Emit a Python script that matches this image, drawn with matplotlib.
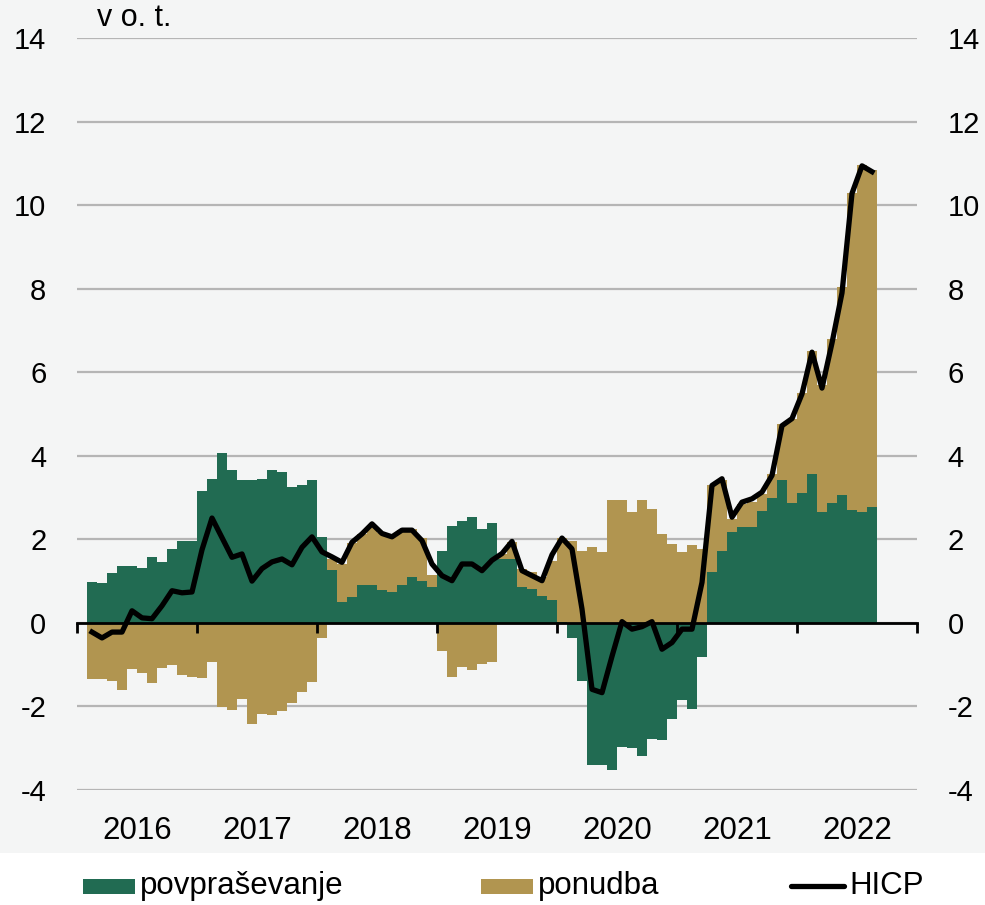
import numpy as np
import pandas as pd
import matplotlib.pyplot as plt
import matplotlib.transforms as mtransforms
from matplotlib.patches import Rectangle
from matplotlib.lines import Line2D

plt.rcParams['font.family'] = ['Liberation Sans', 'DejaVu Sans']

# monthly data, Feb 2016 - Aug 2022 (prispevki k inflaciji, v o. t.)
months = pd.period_range('2016-02', '2022-08', freq='M')

povprasevanje = [
    0.99, 0.95, 1.19, 1.35, 1.35, 1.31, 1.57, 1.46, 1.77, 1.97, 1.97,
    3.15, 3.45, 4.07, 3.66, 3.41, 3.41, 3.45, 3.66, 3.60, 3.26, 3.31, 3.41,
    2.06, 1.26, 0.49, 0.63, 0.90, 0.90, 0.79, 0.74, 0.90, 1.11, 1.01, 0.85,
    1.73, 2.33, 2.43, 2.54, 2.25, 2.38, 1.53, 1.53, 0.85, 0.81, 0.65, 0.54,
    0.02, -0.35, -1.39, -3.39, -3.39, -3.53, -2.96, -2.99, -3.19, -2.79, -2.81, -2.31,
    -1.85, -2.05, -0.82, 1.21, 1.71, 2.17, 2.29, 2.29, 2.69, 2.99, 3.41, 2.88,
    3.10, 3.57, 2.65, 2.88, 3.05, 2.70, 2.65, 2.78,
]

ponudba = [
    -1.35, -1.35, -1.39, -1.60, -1.10, -1.19, -1.45, -1.09, -1.01, -1.25, -1.29,
    -1.33, -0.94, -2.01, -2.09, -1.81, -2.41, -2.17, -2.21, -2.11, -1.91, -1.65, -1.41,
    -0.37, 0.27, 0.92, 1.28, 1.22, 1.45, 1.35, 1.31, 1.32, 1.13, 1.02, 0.30,
    -0.67, -1.29, -1.05, -1.13, -0.99, -0.94, 0.13, 0.40, 0.44, 0.40, 0.44, 0.95,
    2.01, 1.95, 1.73, 1.82, 1.69, 2.94, 2.94, 2.65, 2.94, 2.73, 2.13, 1.89,
    1.69, 1.86, 1.77, 2.08, 1.70, 0.32, 0.56, 0.60, 0.40, 0.58, 1.36, 2.00,
    2.40, 2.93, 3.05, 3.92, 5.00, 7.58, 8.31, 8.07,
]

hicp = [
    -0.22, -0.36, -0.22, -0.22, 0.29, 0.12, 0.10, 0.41, 0.77, 0.72, 0.74,
    1.75, 2.51, 2.04, 1.57, 1.65, 1.00, 1.30, 1.46, 1.53, 1.39, 1.81, 2.06,
    1.70, 1.58, 1.45, 1.93, 2.13, 2.37, 2.14, 2.06, 2.22, 2.22, 1.97, 1.41,
    1.13, 1.01, 1.41, 1.41, 1.25, 1.50, 1.66, 1.95, 1.25, 1.13, 1.01, 1.63,
    2.03, 1.77, 0.33, -1.59, -1.67, -0.80, 0.03, -0.15, -0.09, 0.03, -0.63, -0.47,
    -0.15, -0.15, 0.97, 3.29, 3.45, 2.53, 2.89, 2.97, 3.13, 3.53, 4.72, 4.89,
    5.48, 6.48, 5.62, 6.70, 7.90, 10.28, 10.94, 10.80,
]

years = ['2016', '2017', '2018', '2019', '2020', '2021', '2022']
yticks = [-4, -2, 0, 2, 4, 6, 8, 10, 12, 14]

GREEN = '#216b52'
TAN = '#b19550'

x = np.array([(p.year - 2016) * 12 + p.month - 1 for p in months]) + 0.5
dem = np.array(povprasevanje)
sup = np.array(ponudba)
sup_bottom = np.where(sup >= 0, np.maximum(dem, 0), np.minimum(dem, 0))

W, H = 985, 905
fig = plt.figure(figsize=(W / 100, H / 100), dpi=100)
fig.patch.set_facecolor('white')
fig.patches.append(Rectangle((0, 1 - 853 / H), 1, 853 / H, transform=fig.transFigure,
                             facecolor='#f4f5f5', edgecolor='none', zorder=-10))

ax = fig.add_axes([77 / W, 1 - 790 / H, 840 / W, 752 / H])
ax.set_facecolor('none')

ax.bar(x, dem, width=1.0, color=GREEN, linewidth=0, zorder=2)
ax.bar(x, sup, width=1.0, bottom=sup_bottom, color=TAN, linewidth=0, zorder=2)
ax.plot(x, hicp, color='black', lw=3.8, zorder=4)

ax.set_xlim(0, 84)
ax.set_ylim(-4, 14)

ax.set_axisbelow(True)
ax.yaxis.grid(True, color='#b5b5b5', lw=1.6)
ax.set_yticks(yticks, labels=[str(t) for t in yticks])
ax.tick_params(axis='y', length=0, pad=22, labelsize=21, labelleft=True, labelright=True)

for s in ['top', 'left', 'right']:
    ax.spines[s].set_visible(False)
ax.spines['bottom'].set_position(('data', 0))
ax.spines['bottom'].set_linewidth(2)
ax.spines['bottom'].set_color('black')
ax.spines['bottom'].set_zorder(3)
ax.set_xticks(range(0, 85, 12))
ax.tick_params(axis='x', direction='out', length=7, width=2, labelbottom=False)
ax.xaxis.set_zorder(3.5)

trans = mtransforms.blended_transform_factory(ax.transData, ax.transAxes)
for i, yr in enumerate(years):
    ax.text(i * 12 + 6, -41 / 752, yr, transform=trans, ha='center', va='center', fontsize=22.5)

ax.text(20 / 840, 1 + 20 / 752, 'v o. t.', transform=ax.transAxes, ha='left', va='center', fontsize=22)

# legend
def fx(px):
    return px / W

def fy(py):
    return 1 - py / H

ly = 886
fig.patches.append(Rectangle((fx(83), fy(894)), 52 / W, 15 / H, transform=fig.transFigure,
                             facecolor=GREEN, edgecolor='none'))
fig.text(fx(140), fy(ly), 'povpraševanje', ha='left', va='center', fontsize=22.5)
fig.patches.append(Rectangle((fx(481), fy(894)), 52 / W, 15 / H, transform=fig.transFigure,
                             facecolor=TAN, edgecolor='none'))
fig.text(fx(538), fy(ly), 'ponudba', ha='left', va='center', fontsize=22.5)
fig.lines.append(Line2D([fx(791), fx(844)], [fy(ly), fy(ly)], transform=fig.transFigure,
                        color='black', lw=3.8, solid_capstyle='round'))
fig.text(fx(849), fy(ly), 'HICP', ha='left', va='center', fontsize=22.5)

fig.savefig('out.png', dpi=100, facecolor=fig.get_facecolor())
